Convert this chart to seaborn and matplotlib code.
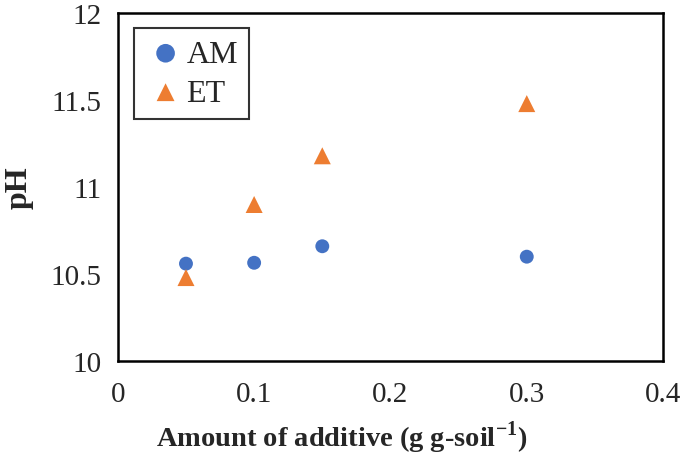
import pandas as pd
import matplotlib
matplotlib.use('Agg')
import matplotlib.pyplot as plt
import seaborn as sns

amount = [0.05, 0.1, 0.15, 0.3]
ph_am = [10.56, 10.565, 10.66, 10.60]
ph_et = [10.48, 10.90, 11.18, 11.48]

df = pd.DataFrame({
    'amount': amount * 2,
    'pH': ph_am + ph_et,
    'series': ['AM'] * len(amount) + ['ET'] * len(amount),
})

sns.set_style('white')
plt.rcParams['font.family'] = ['Liberation Serif', 'DejaVu Serif']

fig = plt.figure(figsize=(6.85, 4.56), dpi=100)
ax = fig.add_axes([0.172, 0.206, 0.796, 0.763])

sns.scatterplot(data=df[df.series == 'AM'], x='amount', y='pH', color='#4472C4',
                marker='o', s=100, edgecolor='none', label='AM', ax=ax)
sns.scatterplot(data=df[df.series == 'ET'], x='amount', y='pH', color='#ED7D31',
                marker='^', s=150, edgecolor='none', label='ET', ax=ax)

ax.set_xlim(0, 0.4)
ax.set_ylim(10, 12)
ax.set_xticks([0, 0.1, 0.2, 0.3, 0.4])
ax.set_xticklabels(['0', '0.1', '0.2', '0.3', '0.4'])
ax.set_yticks([10, 10.5, 11, 11.5, 12])
ax.set_yticklabels(['10', '10.5', '11', '11.5', '12'])
ax.tick_params(direction='in', length=7, width=1.5, labelsize=21)
ax.tick_params(axis='x', pad=14)
ax.tick_params(axis='y', pad=12)

for sp in ax.spines.values():
    sp.set_color('black')
    sp.set_linewidth(1.8)

ax.set_xlabel('Amount of additive (g g-soil$^{\\mathregular{-1}}$)', fontsize=20.5,
              fontweight='bold')
ax.xaxis.set_label_coords(0.41, -0.165)
ax.set_ylabel('pH', fontsize=23, fontweight='bold')
ax.yaxis.set_label_coords(-0.155, 0.5)

leg = ax.legend(loc='upper left', bbox_to_anchor=(0.029, 0.957), borderaxespad=0,
                fontsize=23, frameon=True, fancybox=False, handletextpad=0.0,
                borderpad=0.35, labelspacing=0.3, handlelength=1.3,
                markerscale=1.0)
leg.get_frame().set_edgecolor('black')
leg.get_frame().set_linewidth(1.5)
leg.legend_handles[0].set_sizes([180])
leg.legend_handles[1].set_sizes([165])

plt.savefig('out.png', dpi=100)
